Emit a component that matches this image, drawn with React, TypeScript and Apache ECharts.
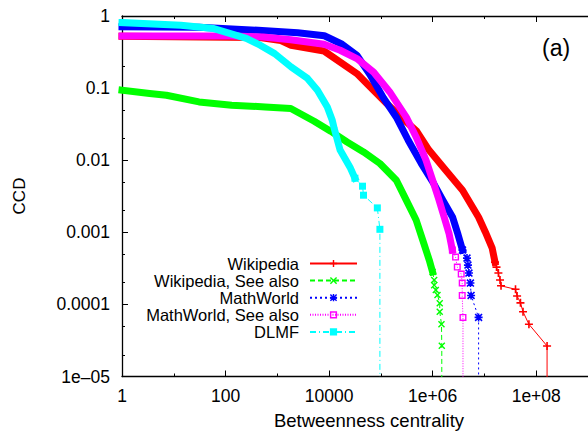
import React, { useEffect, useRef } from "react";
import * as echarts from "echarts";

// ---- tick values and labels ----
const xTickValues = [1, 100, 10000, 1e6, 1e8];
const xTickLabels = ["1", "100", "10000", "1e+06", "1e+08"];
const xMinorValues = [10, 1000, 1e5, 1e7];
const yTickValues = [1e-5, 1e-4, 1e-3, 0.01, 0.1, 1];
const yTickLabels = ["1e\u201305", "0.0001", "0.001", "0.01", "0.1", "1"];
const yMinorValues = [2e-5, 5e-5, 2e-4, 5e-4, 2e-3, 5e-3, 0.02, 0.05, 0.2, 0.5];

const seriesNames = ["Wikipedia", "Wikipedia, See also", "MathWorld", "MathWorld, See also", "DLMF"];

// ---- data: [betweenness, CCD] ----
const wikipediaBody: [number, number][] = [
  [1, 0.523], [427, 0.505], [1170, 0.455], [1840, 0.393], [7980, 0.327], [34400, 0.159],
  [61700, 0.104], [128000, 0.0617], [248000, 0.0395], [490000, 0.0253], [847000, 0.0138],
  [1.79e6, 0.00727], [3.77e6, 0.00384], [7.71e6, 0.00162], [1.04e7, 0.00101],
  [1.41e7, 0.000603], [1.6e7, 0.000386],
];
const wikipediaTail: [number, number][] = [
  [1.6e7, 0.000386], [1.71e7, 0.000329], [1.86e7, 0.000272], [2.0e7, 0.000218],
  [2.09e7, 0.000181], [3.98e7, 0.000162], [4.27e7, 0.000131], [4.96e7, 0.000105],
  [5.56e7, 7.9e-5], [7.23e7, 5.3e-5], [1.62e8, 2.65e-5], [1.62e8, 1e-6],
];

const seeAlsoBody: [number, number][] = [
  [1, 0.0934], [3.42, 0.0841], [7.21, 0.0796], [30.7, 0.0643], [131, 0.0579], [581, 0.0548],
  [1820, 0.0521], [2470, 0.0463], [5150, 0.0347], [10700, 0.0253], [22200, 0.0179],
  [46200, 0.013], [95700, 0.009], [199000, 0.00528], [309000, 0.00279], [479000, 0.00148],
  [643000, 0.000779], [859000, 0.000412], [997000, 0.000281],
];
const seeAlsoTail: [number, number][] = [
  [997000, 0.000281], [1.07e6, 0.000218], [1.07e6, 0.000185], [1.15e6, 0.000158],
  [1.24e6, 0.000135], [1.37e6, 0.000104], [1.37e6, 7.9e-5], [1.48e6, 5.3e-5],
  [1.5e6, 2.67e-5], [1.5e6, 1e-6],
];

const mathWorldBody: [number, number][] = [
  [1, 0.708], [30.7, 0.697], [427, 0.634], [2470, 0.585], [8090, 0.532], [17800, 0.406],
  [34400, 0.285], [60900, 0.156], [113000, 0.0724], [199000, 0.0395], [337000, 0.0189],
  [597000, 0.0091], [1.01e6, 0.00496], [1.57e6, 0.00279], [2.43e6, 0.00162],
  [3.03e6, 0.000974], [3.77e6, 0.000566],
];
const mathWorldTail: [number, number][] = [
  [3.77e6, 0.000566], [4.6e6, 0.000439], [4.8e6, 0.000351], [5.02e6, 0.000272],
  [5.36e6, 0.000198], [5.52e6, 0.000133], [7.71e6, 6.6e-5], [7.71e6, 1e-6],
];

const mwSeeAlsoBody: [number, number][] = [
  [1, 0.528], [125, 0.528], [532, 0.512], [1820, 0.468], [7980, 0.406], [16300, 0.335],
  [34400, 0.257], [72600, 0.166], [148000, 0.0885], [309000, 0.0395], [479000, 0.021],
  [743000, 0.01], [997000, 0.00528], [1.33e6, 0.00279], [1.66e6, 0.00164],
  [2.07e6, 0.000965], [2.4e6, 0.000566],
];
const mwSeeAlsoTail: [number, number][] = [
  [2.4e6, 0.000566], [2.77e6, 0.000453], [2.99e6, 0.000329], [3.56e6, 0.000263],
  [3.72e6, 0.000198], [3.72e6, 0.000133], [3.85e6, 6.6e-5], [3.85e6, 1e-6],
];

const dlmfBody: [number, number][] = [
  [1, 0.81], [13.7, 0.743], [59.3, 0.669], [252, 0.491], [466, 0.393], [889, 0.301],
  [1840, 0.197], [3830, 0.136], [5950, 0.0934], [9230, 0.0548], [11500, 0.0359],
  [12500, 0.0278], [16300, 0.0138], [25300, 0.008], [31500, 0.00563],
];
const dlmfTail: [number, number][] = [
  [31500, 0.00563], [44200, 0.00436], [46200, 0.00327], [85400, 0.00218],
  [95700, 0.0011], [95700, 1e-6],
];

// ---- styling ----
const FONT = '"Liberation Sans", Arial, Helvetica, sans-serif';
const PLUS = "path://M4,0h2v4h4v2h-4v4h-2v-4h-4v-2h4z";
const CROSS = "path://M0,1.4L1.4,0L5,3.6L8.6,0L10,1.4L6.4,5L10,8.6L8.6,10L5,6.4L1.4,10L0,8.6L3.6,5Z";
const STAR =
  "path://M4,0h2v4h4v2h-4v4h-2v-4h-4v-2h4z M0,1.4L1.4,0L5,3.6L8.6,0L10,1.4L6.4,5L10,8.6L8.6,10L5,6.4L1.4,10L0,8.6L3.6,5Z";
const HOLLOW_SQ = "path://M0,0H10V10H0Z M2,2V8H8V2Z";

function band(name: string, data: [number, number][], color: string) {
  return {
    name: name + " (band)",
    type: "line",
    data,
    symbol: "none",
    silent: true,
    clip: false,
    lineStyle: { color, width: 7, cap: "square", join: "round" },
    itemStyle: { color },
    emphasis: { disabled: true },
  };
}

function tail(name: string, data: [number, number][], color: string, symbol: string, dash: any, size: number) {
  return {
    name,
    type: "line",
    data,
    symbol,
    symbolSize: size,
    showAllSymbol: true,
    silent: true,
    clip: true,
    lineStyle: { color, width: 1, type: dash },
    itemStyle: { color },
    emphasis: { disabled: true },
  };
}

function labelFor(values: number[], labels: string[], v: number) {
  const lv = Math.log10(v);
  for (let i = 0; i < values.length; i++) {
    if (Math.abs(Math.log10(values[i]) - lv) < 0.01) return labels[i];
  }
  return "";
}

const black = { color: "#000", width: 1.3 };

function xAxisDef(position: string, major: boolean, withLine: boolean, withLabels: boolean) {
  return {
    type: "log",
    logBase: 10,
    min: 1,
    max: 1e9,
    position,
    axisLine: { show: withLine, onZero: false, lineStyle: black },
    axisTick: {
      show: true,
      inside: true,
      length: major ? 6 : 3,
      lineStyle: { color: "#000", width: 1 },
      customValues: major ? xTickValues : xMinorValues,
    },
    axisLabel: withLabels
      ? {
          show: true,
          customValues: xTickValues,
          formatter: (v: number) => labelFor(xTickValues, xTickLabels, v),
          margin: 10,
          color: "#000",
          fontSize: 17.5,
          fontFamily: FONT,
        }
      : { show: false },
    splitLine: { show: false },
    minorTick: { show: false },
  };
}

const option = {
  animation: false,
  backgroundColor: "#fff",
  grid: { left: 122, top: 16, right: -6, bottom: 55.5, containLabel: false },
  xAxis: [
    xAxisDef("bottom", true, true, true),
    xAxisDef("bottom", false, false, false),
    xAxisDef("top", true, true, false),
    xAxisDef("top", false, false, false),
  ],
  yAxis: [
    {
      type: "log",
      logBase: 10,
      min: 1e-5,
      max: 1,
      position: "left",
      axisLine: { show: true, lineStyle: black },
      axisTick: { show: true, inside: true, length: 6, lineStyle: { color: "#000", width: 1 } },
      axisLabel: {
        formatter: (v: number) => labelFor(yTickValues, yTickLabels, v),
        margin: 12,
        color: "#000",
        fontSize: 17.5,
        fontFamily: FONT,
      },
      splitLine: { show: false },
    },
    {
      type: "log",
      logBase: 10,
      min: 1e-5,
      max: 1,
      position: "left",
      axisLine: { show: false },
      axisTick: {
        show: true,
        inside: true,
        length: 3,
        lineStyle: { color: "#000", width: 1 },
        customValues: yMinorValues,
      },
      axisLabel: { show: false },
      splitLine: { show: false },
    },
  ],
  legend: {
    data: seriesNames,
    orient: "vertical",
    align: "right",
    right: 230,
    top: 255,
    padding: 0,
    itemGap: 0.1,
    itemWidth: 47,
    itemHeight: 9,
    selectedMode: false,
    textStyle: { color: "#000", fontSize: 16.5, lineHeight: 17, fontFamily: FONT, padding: [0, 6, 0, 0] },
  },
  graphic: [
    {
      type: "text",
      x: 19,
      y: 196,
      rotation: Math.PI / 2,
      style: { text: "CCD", fill: "#000", fontSize: 17, fontFamily: FONT, align: "center", verticalAlign: "middle", textAlign: "center", textVerticalAlign: "middle" },
    },
    {
      type: "text",
      x: 369,
      y: 420,
      style: { text: "Betweenness centrality", fill: "#000", fontSize: 18.5, fontFamily: FONT, align: "center", verticalAlign: "middle", textAlign: "center", textVerticalAlign: "middle" },
    },
    {
      type: "text",
      x: 542,
      y: 48,
      style: { text: "(a)", fill: "#000", fontSize: 23, fontFamily: FONT, align: "left", verticalAlign: "middle", textAlign: "left", textVerticalAlign: "middle" },
    },
  ],
  series: [
    band(seriesNames[0], wikipediaBody, "#ff0000"),
    tail(seriesNames[0], wikipediaTail, "#ff0000", PLUS, "solid", 8),
    band(seriesNames[1], seeAlsoBody, "#00ff00"),
    tail(seriesNames[1], seeAlsoTail, "#00ff00", CROSS, [5, 3], 7),
    band(seriesNames[2], mathWorldBody, "#0000ff"),
    tail(seriesNames[2], mathWorldTail, "#0000ff", STAR, [2, 3], 8),
    band(seriesNames[3], mwSeeAlsoBody, "#ff00ff"),
    tail(seriesNames[3], mwSeeAlsoTail, "#ff00ff", HOLLOW_SQ, [1, 1.5], 7),
    band(seriesNames[4], dlmfBody, "#00ffff"),
    tail(seriesNames[4], dlmfTail, "#00ffff", "rect", [6, 3, 1, 3], 7),
  ],
};

export default function App() {
  const ref = useRef<HTMLDivElement>(null);
  useEffect(() => {
    if (!ref.current) return;
    const chart = echarts.init(ref.current, null, { renderer: "svg" });
    chart.setOption(option as any);
    return () => chart.dispose();
  }, []);
  return (
    <div
      ref={ref}
      style={{ position: "absolute", left: 0, top: 0, width: 588, height: 432, background: "#fff" }}
    />
  );
}
